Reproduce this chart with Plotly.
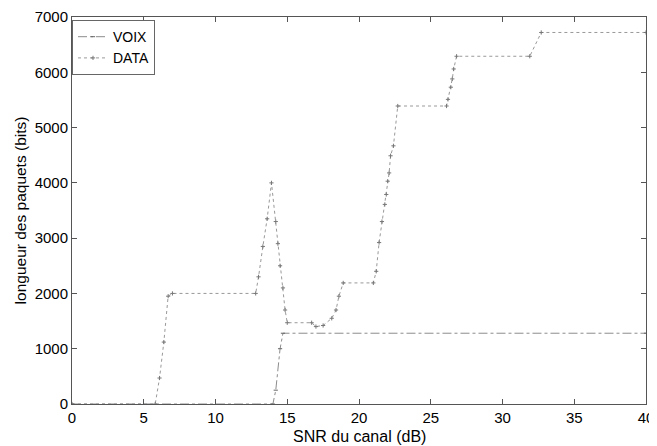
import plotly.graph_objects as go

# SNR (dB) and packet length (bits)
voix_snr = [0, 14.0, 14.2, 14.5, 14.7, 40]
voix_len = [0, 0, 250, 1000, 1280, 1280]

data_snr = [0, 5.8, 6.1, 6.4, 6.7, 7.0, 12.8, 13.0, 13.3, 13.6, 13.9, 14.2, 14.35, 14.5,
            14.7, 14.85, 15.0, 16.7, 17.0, 17.5, 18.1, 18.4, 18.6, 18.9, 21.0, 21.2, 21.4,
            21.6, 21.8, 21.9, 22.0, 22.1, 22.2, 22.4, 22.7, 26.1, 26.2, 26.4, 26.5, 26.6,
            26.8, 31.9, 32.7, 40]
data_len = [0, 0, 470, 1120, 1950, 2000, 2000, 2300, 2850, 3350, 4000, 3300, 2900, 2500,
            2100, 1700, 1470, 1470, 1400, 1420, 1550, 1700, 1950, 2190, 2190, 2400, 2920,
            3300, 3610, 3790, 4030, 4180, 4490, 4670, 5390, 5390, 5510, 5730, 5880, 6060,
            6290, 6290, 6720, 6720]

x_ticks = [0, 5, 10, 15, 20, 25, 30, 35, 40]
y_ticks = [0, 1000, 2000, 3000, 4000, 5000, 6000, 7000]

x_title = "SNR du canal (dB)"
y_title = "longueur des paquets (bits)"

font = "Liberation Sans, Arial, sans-serif"

fig = go.Figure()
fig.add_trace(go.Scatter(x=voix_snr, y=voix_len, mode="lines+markers", name="VOIX",
                         line=dict(color="#8c8c8c", width=1, dash="dashdot"),
                         marker=dict(symbol="line-ew", size=3, color="#666",
                                     line=dict(width=1, color="#666"))))
fig.add_trace(go.Scatter(x=data_snr, y=data_len, mode="lines+markers", name="DATA",
                         line=dict(color="#999999", width=1, dash="dot"),
                         marker=dict(symbol="cross-thin", size=3, color="#777",
                                     line=dict(width=1, color="#777"))))

fig.update_layout(
    width=649, height=438,
    margin=dict(l=64, r=11, t=9, b=42),
    paper_bgcolor="white", plot_bgcolor="white",
    font=dict(family=font, size=15, color="black"),
    showlegend=True,
    legend=dict(x=0.0, y=0.992, xanchor="left", yanchor="top",
                bgcolor="white", bordercolor="#666", borderwidth=1,
                font=dict(size=14), tracegroupgap=0,
                itemwidth=30),
    annotations=[
        dict(text=x_title, xref="paper", yref="paper", x=0.5, y=-0.085,
             xanchor="center", yanchor="middle", showarrow=False, font=dict(size=16)),
        dict(text=y_title, xref="paper", yref="paper", x=-0.089, y=0.5,
             xanchor="center", yanchor="middle", showarrow=False, textangle=-90,
             font=dict(size=15.5)),
    ],
)
fig.update_xaxes(range=[0, 40], tickvals=x_ticks, ticktext=[str(v) for v in x_ticks],
                 showgrid=False, zeroline=False, showline=True, linecolor="#555",
                 linewidth=1, mirror="ticks", ticks="inside", ticklen=5, tickcolor="#555",
                 automargin=False, tickfont=dict(size=15))
fig.update_yaxes(range=[0, 7000], tickvals=y_ticks, ticktext=[str(v) for v in y_ticks],
                 showgrid=False, zeroline=False, showline=True, linecolor="#555",
                 linewidth=1, mirror="ticks", ticks="inside", ticklen=5, tickcolor="#555",
                 automargin=False, tickfont=dict(size=15))

fig.write_html("out.html")
